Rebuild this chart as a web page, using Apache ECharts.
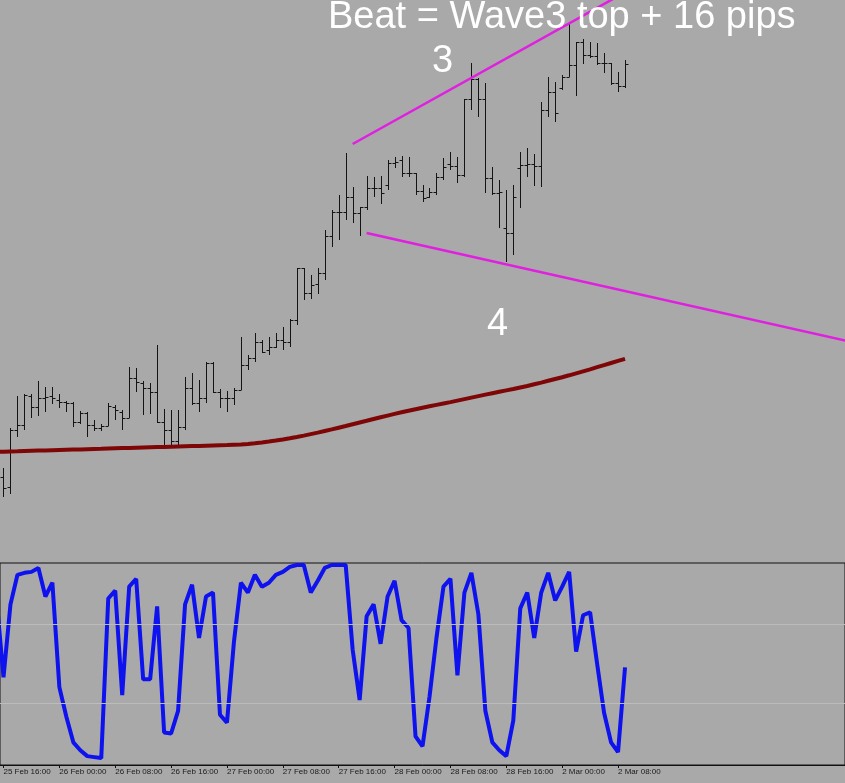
<!DOCTYPE html>
<html><head><meta charset="utf-8">
<script src="https://cdn.jsdelivr.net/npm/echarts@6/dist/echarts.min.js"></script>
<style>html,body{margin:0;padding:0;background:#a9a9a9;overflow:hidden}#c{width:845px;height:783px}</style>
</head><body><div id="c"></div><script>
const tickLabels = ['25 Feb 16:00','26 Feb 00:00','26 Feb 08:00','26 Feb 16:00','27 Feb 00:00','27 Feb 08:00','27 Feb 16:00','28 Feb 00:00','28 Feb 08:00','28 Feb 16:00','2 Mar 00:00','2 Mar 08:00'];
const barsPerTick = 8;
const axisSlots = 121; // bar slots spanning the chart width (bars 0..120)

const barOpen = [123,113,170,175,204,193,202,204,200,198,
 197,178,187,175,172,174,193,188,182,222,
 217,212,208,178,170,159,173,212,197,202,
 237,208,202,202,210,235,242,258,250,253,
 260,258,280,332,307,316,327,364,388,388,
 403,387,393,412,412,415,437,440,427,427,
 409,403,408,423,436,434,425,501,521,501,
 422,407,372,367,432,435,436,434,490,508,
 512,523,535,558,545,544,537,537,517,514];
const barHigh = [132,172,204,206,206,219,213,213,206,199,
 198,189,188,180,176,197,195,190,233,232,
 219,217,255,191,190,190,223,227,220,238,
 238,211,209,212,263,245,267,260,263,267,
 273,281,332,332,325,332,370,390,405,447,
 413,393,424,423,424,440,443,444,443,427,
 415,412,427,442,448,443,501,537,522,517,
 433,420,410,415,448,452,446,498,523,518,
 525,578,558,561,558,557,547,537,528,540];
const barLow = [103,106,163,170,182,184,188,196,192,188,
 173,176,163,169,169,174,180,170,182,208,
 185,186,177,152,152,153,170,195,188,197,
 207,192,188,195,210,230,238,247,245,252,
 250,253,275,300,301,306,320,353,360,380,
 377,364,390,403,396,410,432,423,423,405,
 398,402,405,420,430,417,423,490,483,407,
 405,372,338,345,392,423,414,413,483,478,
 510,523,504,536,542,535,527,515,508,512];
const barClose = [112,170,175,205,193,202,203,202,198,197,
 178,187,175,172,174,194,190,182,222,218,
 212,208,178,170,159,173,212,197,202,237,
 208,202,202,210,235,242,258,248,253,260,
 258,280,332,307,315,327,364,388,388,403,
 387,393,412,412,407,437,438,427,427,409,
 402,408,423,433,434,425,501,521,501,422,
 407,408,367,403,435,436,434,490,508,487,
 523,535,558,545,544,537,537,517,514,536];

// Moving average, from bar -1 to bar 89
const maValues = [148,148.3,148.5,148.7,149,149.2,149.4,149.6,149.8,150,150.2,
 150.4,150.6,150.8,151,151.2,151.5,151.7,151.9,152.1,152.3,
 152.5,152.7,152.9,153.1,153.3,153.5,153.7,153.9,154.1,154.3,
 154.5,154.7,154.9,155.2,155.5,156,156.7,157.5,158.4,159.4,
 160.5,161.7,163,164.4,165.9,167.4,169,170.6,172.3,174,
 175.8,177.5,179.2,181,182.7,184.4,186.1,187.7,189.3,190.8,
 192.3,193.7,195.1,196.5,197.9,199.4,200.9,202.4,203.9,205.4,
 206.8,208.2,209.6,211,212.5,214,215.7,217.4,219.2,221,
 222.8,224.7,226.7,228.7,230.7,232.8,234.9,237,239.1,241.2];

// Stochastic main line, from bar -1 to bar 89
const stochValues = [83,43,80,95,96,96.5,98.5,84,91,38,23,
 10,6,3,2.5,2,83,87,34,89,93,
 42,42,79,15,14.5,26,80,90,63,84,
 86,24,20,61,91,86,95,89,91,95,
 96.5,99,100,100,86,92,98.5,100,100,100,
 57,31.5,74,80,60,84,92,72,68,13,
 8,33,63,89,93,44,86,96,75,26,
 10,6,3,21,78,86,63,86,96,82,
 89,96.5,56,74.5,76,50,25,10,5,48];
const stochLevels = [70, 30];

// Trend lines: [bar index, price]
const upperTrend = [[50,456],[90,611.6]];
const lowerTrend = [[52,367],[121,258.8]];

const annotations = [
  {text:'Beat = Wave3 top + 16 pips', x:328, y:-1},
  {text:'3', x:432, y:43},
  {text:'4', x:487, y:306}
];

// ---- build ----
const cats = [];
for (let k = 0; k < axisSlots; k++) {
  if (k % barsPerTick === 0 && k / barsPerTick < tickLabels.length) cats.push(tickLabels[k / barsPerTick]);
  else cats.push('slot' + k);
}
const showIdx = (index) => index % barsPerTick === 0 && index / barsPerTick < tickLabels.length;

const ohlcData = barOpen.map((o, i) => [i, o, barHigh[i], barLow[i], barClose[i]]);
const maData = maValues.map((v, k) => [k - 1, v]);
const stochData = stochValues.map((v, k) => [k - 1, v]);

const xMin = -0.5, xMax = axisSlots - 0.5;
const chart = echarts.init(document.getElementById('c'), null, {renderer:'canvas'});
const stroke = '#141414';
chart.setOption({
  animation: false,
  backgroundColor: '#a9a9a9',
  grid: [
    {left:0, right:0, top:0, height:563},
    {left:0, right:0, top:563, bottom:18, show:true, borderColor:'#111', borderWidth:1, backgroundColor:'transparent'}
  ],
  xAxis: [
    {type:'value', gridIndex:0, min:xMin, max:xMax, show:false},
    {type:'value', gridIndex:1, min:xMin, max:xMax, show:false},
    {type:'category', gridIndex:1, data:cats, boundaryGap:true, position:'bottom',
     axisLine:{show:true, lineStyle:{color:'#111', width:1}},
     axisTick:{show:true, length:3, alignWithLabel:true, interval:showIdx, lineStyle:{color:'#111'}},
     axisLabel:{show:true, interval:showIdx, align:'left', margin:3, fontSize:8, color:'#1a1a1a', fontFamily:'Liberation Sans, Arial, sans-serif'},
     splitLine:{show:false}}
  ],
  yAxis: [
    {type:'value', gridIndex:0, min:37, max:600, show:false, splitLine:{show:false}},
    {type:'value', gridIndex:1, min:-1.5, max:101, show:false, splitLine:{show:false}}
  ],
  series: [
    {type:'custom', xAxisIndex:0, yAxisIndex:0, data:ohlcData,
     encode:{x:0, y:[1,2,3,4]},
     renderItem: function(params, api){
       const x = api.value(0);
       const o = api.coord([x, api.value(1)]);
       const h = api.coord([x, api.value(2)]);
       const l = api.coord([x, api.value(3)]);
       const c = api.coord([x, api.value(4)]);
       const px = Math.round(o[0]) + 0.5;
       const st = {stroke:stroke, lineWidth:1};
       return {type:'group', children:[
         {type:'line', shape:{x1:px, y1:h[1], x2:px, y2:l[1]}, style:st},
         {type:'line', shape:{x1:px-3, y1:Math.round(o[1])+0.5, x2:px, y2:Math.round(o[1])+0.5}, style:st},
         {type:'line', shape:{x1:px, y1:Math.round(c[1])+0.5, x2:px+3, y2:Math.round(c[1])+0.5}, style:st}
       ]};
     }, z:2},
    {type:'line', xAxisIndex:0, yAxisIndex:0, data:maData, showSymbol:false, smooth:false, clip:true,
     lineStyle:{color:'#7e0606', width:4}, z:3},
    {type:'line', xAxisIndex:0, yAxisIndex:0, data:upperTrend, showSymbol:false, clip:true,
     lineStyle:{color:'#e01fe0', width:2.5}, z:4},
    {type:'line', xAxisIndex:0, yAxisIndex:0, data:lowerTrend, showSymbol:false, clip:true,
     lineStyle:{color:'#e01fe0', width:2.5}, z:4},
    {type:'line', xAxisIndex:1, yAxisIndex:1, data:stochData, showSymbol:false, clip:true,
     lineStyle:{color:'#0d12ee', width:4}, z:4,
     markLine:{silent:true, symbol:'none', label:{show:false},
       lineStyle:{color:'#bcbcbc', width:1, type:'solid'},
       data: stochLevels.map(v => ({yAxis:v}))}}
  ],
  graphic: annotations.map(a => ({type:'text', x:a.x, y:a.y, z:10,
    style:{text:a.text, fill:'#ffffff', font:'38px "Liberation Sans", Arial, sans-serif', verticalAlign:'top'}}))
});
</script></body></html>
